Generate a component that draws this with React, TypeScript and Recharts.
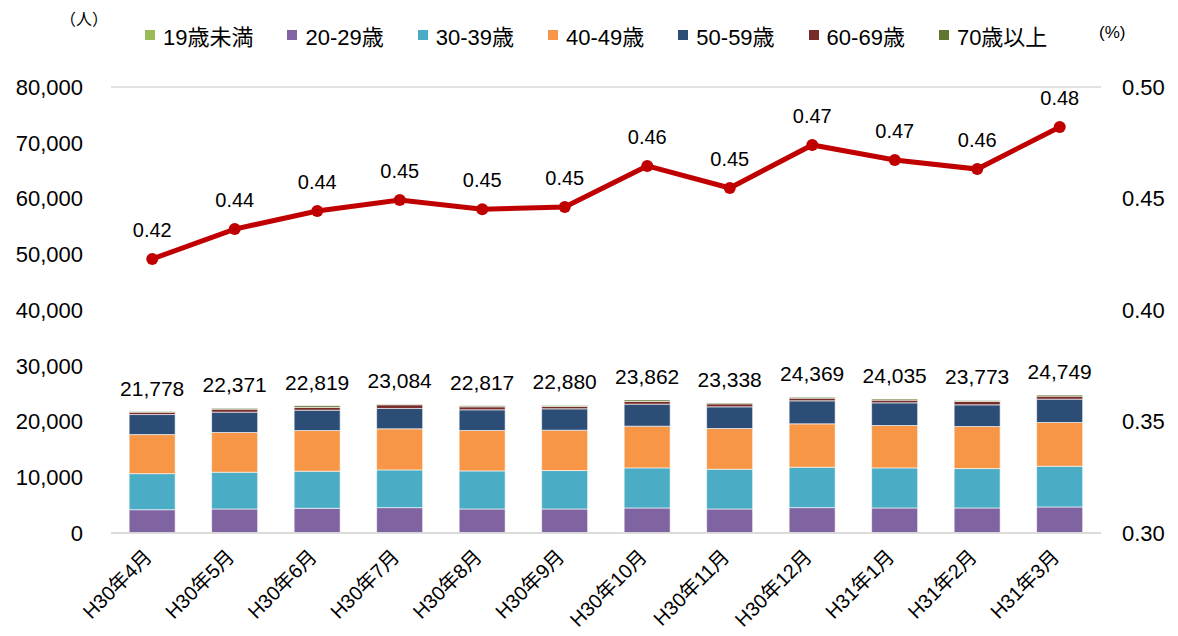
import { ComposedChart, Bar, Line, XAxis, YAxis, CartesianGrid, Legend, LabelList } from 'recharts'

const months = ['H30年4月', 'H30年5月', 'H30年6月', 'H30年7月', 'H30年8月', 'H30年9月', 'H30年10月', 'H30年11月', 'H30年12月', 'H31年1月', 'H31年2月', 'H31年3月']
const under19 = [50, 50, 50, 50, 50, 50, 50, 50, 50, 50, 50, 50]
const age20s = [4130, 4260, 4380, 4500, 4260, 4260, 4440, 4260, 4500, 4440, 4440, 4620]
const age30s = [6470, 6590, 6650, 6770, 6830, 6890, 7190, 7130, 7250, 7190, 7070, 7310]
const age40s = [7000, 7126, 7300, 7370, 7245, 7245, 7480, 7300, 7780, 7600, 7540, 7840]
const age50s = [3600, 3653, 3650, 3650, 3713, 3830, 3950, 3890, 4130, 4070, 3890, 4190]
const age60s = [420, 540, 480, 660, 540, 420, 480, 540, 480, 480, 600, 540]
const over70 = [108, 152, 309, 84, 179, 185, 272, 168, 179, 205, 183, 199]
const totals = [21778, 22371, 22819, 23084, 22817, 22880, 23862, 23338, 24369, 24035, 23773, 24749]
const ratio = [0.4229, 0.4363, 0.4444, 0.4493, 0.4452, 0.4462, 0.4646, 0.4547, 0.474, 0.4673, 0.4632, 0.4821]

const leftTicks = [0, 10000, 20000, 30000, 40000, 50000, 60000, 70000, 80000]
const rightTicks = [0.3, 0.35, 0.4, 0.45, 0.5]

const series = [
  { key: 'under19', name: '19歳未満', color: '#9BBB59', values: under19 },
  { key: 'age20s', name: '20-29歳', color: '#8064A2', values: age20s },
  { key: 'age30s', name: '30-39歳', color: '#4BACC6', values: age30s },
  { key: 'age40s', name: '40-49歳', color: '#F79646', values: age40s },
  { key: 'age50s', name: '50-59歳', color: '#2C4D76', values: age50s },
  { key: 'age60s', name: '60-69歳', color: '#772C2A', values: age60s },
  { key: 'over70', name: '70歳以上', color: '#5F7530', values: over70 },
]

const data = months.map((m, i) => {
  const row: Record<string, string | number> = { month: m, total: totals[i], ratio: ratio[i] }
  series.forEach(s => { row[s.key] = s.values[i] })
  return row
})

const FONT = '"Liberation Sans", Arial, "Noto Sans CJK JP", sans-serif'

function MonthTick({ x, y, payload }: any) {
  return (
    <g transform={`translate(${x + 1},${y + 25})`}>
      <text textAnchor="end" transform="rotate(-45)" fontSize={20} fill="#000" fontFamily={FONT}>
        {payload.value}
      </text>
    </g>
  )
}

function LegendContent() {
  return (
    <div style={{ display: 'flex', alignItems: 'center', fontFamily: FONT, fontSize: 22, color: '#000', whiteSpace: 'nowrap' }}>
      {series.map(s => (
        <div key={s.key} style={{ display: 'flex', alignItems: 'center', marginRight: 34 }}>
          <span style={{ width: 10, height: 10, background: s.color, marginRight: 8, display: 'inline-block' }} />
          <span>{s.name}</span>
        </div>
      ))}
    </div>
  )
}

export default function App() {
  return (
    <div style={{ position: 'absolute', left: 0, top: 0, width: 1178, height: 636, background: '#fff', fontFamily: FONT }}>
      <span style={{ position: 'absolute', left: 60, top: 6, fontSize: 16, fontFamily: FONT }}>（人）</span>
      <span style={{ position: 'absolute', left: 1099, top: 23, fontSize: 17, fontFamily: FONT }}>(%)</span>
      <ComposedChart width={1178} height={636} data={data} barCategoryGap="22%" margin={{ top: 87, right: 0, bottom: 13, left: 0 }}>
        <CartesianGrid vertical={false} stroke="#d9d9d9" strokeWidth={1.5} />
        <XAxis dataKey="month" interval={0} height={90} tickLine={false} tickSize={0} tickMargin={0} axisLine={{ stroke: '#d9d9d9', strokeWidth: 1.5 }} tick={<MonthTick />} />
        <YAxis yAxisId="left" width={111} domain={[0, 80000]} ticks={leftTicks} tickLine={false} tickSize={0} tickMargin={28} axisLine={false}
          tickFormatter={(v: number) => v.toLocaleString('en-US')} tick={{ fontSize: 22, fill: '#000', fontFamily: FONT }} />
        <YAxis yAxisId="right" orientation="right" width={77} domain={[0.3, 0.5]} ticks={rightTicks} tickLine={false} tickSize={0} tickMargin={21} axisLine={false}
          tickFormatter={(v: number) => v.toFixed(2)} tick={{ fontSize: 22, fill: '#000', fontFamily: FONT }} />
        <Legend verticalAlign="middle" align="center" wrapperStyle={{ top: 19, left: 145, width: 'auto' }} content={<LegendContent />} />
        {series.map((s, i) => (
          <Bar key={s.key} yAxisId="left" dataKey={s.key} name={s.name} stackId="a" fill={s.color} stroke="#ffffff" strokeWidth={0.6} isAnimationActive={false}>
            {i === series.length - 1 && (
              <LabelList dataKey="total" position="top" offset={16} fontSize={21} fill="#000" fontFamily={FONT}
                formatter={(v: any) => Number(v).toLocaleString('en-US')} />
            )}
          </Bar>
        ))}
        <Line yAxisId="right" type="linear" dataKey="ratio" stroke="#C00000" strokeWidth={5} legendType="none"
          dot={{ r: 6, fill: '#C00000', stroke: '#C00000', strokeWidth: 0 }} activeDot={false} isAnimationActive={false}>
          <LabelList dataKey="ratio" position="top" offset={22} fontSize={20} fill="#000" fontFamily={FONT}
            formatter={(v: any) => Number(v).toFixed(2)} />
        </Line>
      </ComposedChart>
    </div>
  )
}
